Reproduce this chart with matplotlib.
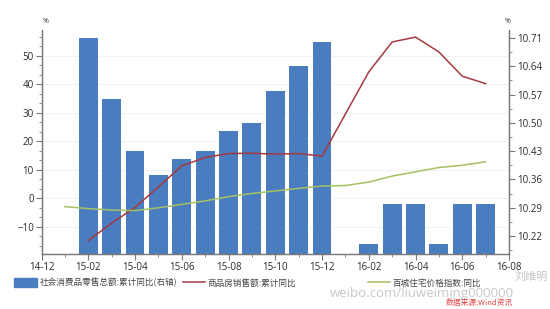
import matplotlib
matplotlib.use("Agg")
import matplotlib.pyplot as plt
from matplotlib.ticker import AutoMinorLocator, FixedLocator
from matplotlib.patches import Patch
from matplotlib.lines import Line2D
import numpy as np

plt.rcParams["font.family"] = ["Open Sans", "Noto Sans CJK SC", "DejaVu Sans"]

# month index 0 = 14-12 ... 20 = 16-08
tick_labels = ["14-12", "15-02", "15-04", "15-06", "15-08", "15-10",
               "15-12", "16-02", "16-04", "16-06", "16-08"]

# 社会消费品零售总额:累计同比 (right axis)
retail_months = [2, 3, 4, 5, 6, 7, 8, 9, 10, 11, 12, 14, 15, 16, 17, 18, 19]
retail_vals = [10.71, 10.56, 10.43, 10.37, 10.41, 10.43, 10.48, 10.50, 10.58,
               10.64, 10.70, 10.20, 10.30, 10.30, 10.20, 10.30, 10.30]

# 商品房销售额:累计同比 (left axis)
sales_months = [2, 3, 4, 5, 6, 7, 8, 9, 10, 11, 12, 14, 15, 16, 17, 18, 19]
sales_vals = [-14.8, -8.7, -3.2, 4.0, 11.4, 14.3, 15.7, 15.8, 15.5, 15.7, 14.8,
              44.3, 54.8, 56.5, 51.3, 42.8, 40.2]

# 百城住宅价格指数:同比 (left axis)
price_months = list(range(1, 20))
price_vals = [-2.9, -3.6, -4.1, -4.3, -3.3, -2.1, -0.9, 0.6, 1.7, 2.6, 3.5,
              4.3, 4.5, 5.7, 7.8, 9.3, 10.8, 11.6, 12.8]

BLUE = "#4a7dbf"
RED = "#a5393f"
GREEN = "#a6c064"
AXC = "#7a7a7a"

fig = plt.figure(figsize=(5.5, 3.09), dpi=100)
fig.patch.set_facecolor("white")
ax_bar = fig.add_axes([0.0755, 0.178, 0.85, 0.725])
ax = ax_bar.twinx()

# bars on right axis
r_lo, r_hi = 10.1755, 10.730
ax_bar.set_ylim(r_lo, r_hi)
ax_bar.bar(retail_months, np.array(retail_vals) - r_lo, bottom=r_lo,
           width=0.81, color=BLUE, zorder=2)
ax_bar.yaxis.tick_right()
ax_bar.yaxis.set_major_locator(FixedLocator(np.arange(10.22, 10.72, 0.07)))
ax_bar.yaxis.set_major_formatter(matplotlib.ticker.FormatStrFormatter("%.2f"))
ax_bar.yaxis.set_minor_locator(AutoMinorLocator(2))

# lines on left axis
ax.set_ylim(-19.5, 59)
ax.yaxis.tick_left()
ax.set_yticks(np.arange(-10, 51, 10))
ax.yaxis.set_minor_locator(AutoMinorLocator(3))
for v in np.arange(-10, 51, 10):
    ax_bar.axhline(r_lo + (v + 19.5) / 78.5 * (r_hi - r_lo), color="#f2f2f2",
                   lw=0.8, zorder=0)
ax.plot(sales_months, sales_vals, color=RED, lw=1.1)
ax.plot(price_months, price_vals, color=GREEN, lw=1.1)

ax_bar.set_xlim(0, 20)
ax_bar.set_xticks(range(0, 21, 2))
ax_bar.set_xticklabels(tick_labels)
ax_bar.xaxis.set_minor_locator(FixedLocator(range(1, 20, 2)))

for a in (ax, ax_bar):
    a.spines["top"].set_visible(False)
    for s in ("left", "right", "bottom"):
        a.spines[s].set_color(AXC)
        a.spines[s].set_linewidth(0.9)
    a.tick_params(which="both", color=AXC, labelsize=7, labelcolor="#2a2a2a",
                  pad=1.5)
    a.tick_params(which="major", length=4)
    a.tick_params(which="minor", length=2.5)

fig.text(0.077, 0.925, "%", fontsize=5, color="#333333")
fig.text(0.918, 0.925, "%", fontsize=5, color="#333333")

# legend entries placed one by one
leg_kw = dict(frameon=False, handlelength=2.6, handleheight=1.3,
              handletextpad=0.3, borderaxespad=0,
              prop={"family": ["Noto Sans CJK SC"], "size": 6.2})
entries = [
    (Patch(color=BLUE), "社会消费品零售总额:累计同比(右轴)", 0.02),
    (Line2D([], [], color=RED, lw=1.1), "商品房销售额:累计同比", 0.326),
    (Line2D([], [], color=GREEN, lw=1.1), "百城住宅价格指数:同比", 0.662),
]
for h, lab, x0 in entries:
    lg = fig.legend([h], [lab], loc="center left", bbox_to_anchor=(x0, 0.085),
                    **leg_kw)
    for t in lg.get_texts():
        t.set_color("#444444")

# watermark
fig.text(0.935, 0.095, "刘维明", fontsize=8, color="#c4c4c4",
         family=["Noto Sans CJK SC"])
fig.text(0.6, 0.038, "weibo.com/liuweiming000000", fontsize=9.5,
         color="#c8c8c8")
fig.text(0.81, 0.006, "数据来源:Wind资讯", fontsize=5.6, color="#e04848",
         style="italic", family=["Noto Sans CJK SC"], va="bottom")

fig.savefig("out.png", dpi=100)
